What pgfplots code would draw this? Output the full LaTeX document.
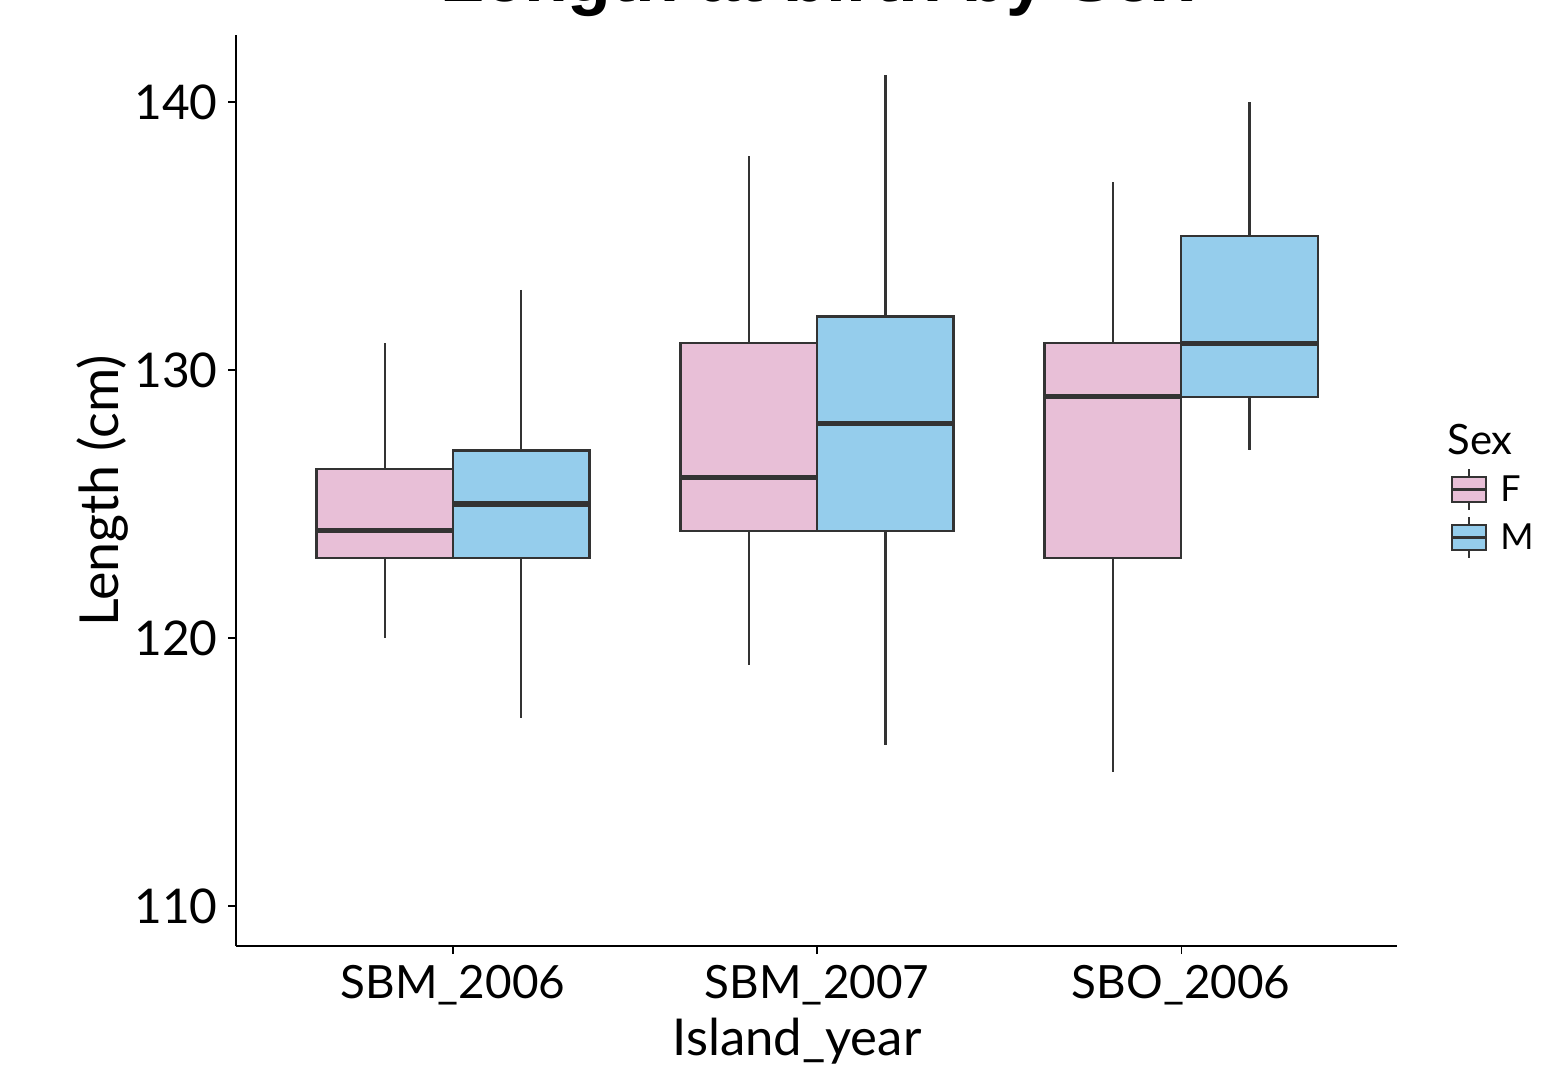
\documentclass[border=0pt]{standalone}
\usepackage{fontspec}
\setmainfont{Lato}
\newfontfamily\titlefont{Liberation Sans}
\usepackage{pgfplots}
\pgfplotsset{compat=1.18}
\usepgfplotslibrary{statistics}
\definecolor{pinkF}{HTML}{E8BFD7}
\definecolor{blueM}{HTML}{95CDEC}
\definecolor{edge}{HTML}{333333}
\begin{document}
\begin{tikzpicture}
\begin{axis}[
  at={(118bp,59.5bp)}, anchor=south west,
  scale only axis, width=580.5bp, height=455.5bp,
  xmin=0.404, xmax=3.593, ymin=108.51, ymax=142.5,
  axis lines*=left,
  axis line style={line width=1.1bp, black, -},
  xtick={1,2,3}, xticklabels={SBM\_2006,SBM\_2007,SBO\_2006},
  ytick={110,120,130,140},
  tick align=outside, major tick length=4bp,
  tick style={line width=0.6bp, black},
  yticklabel style={font=\fontsize{24}{28}\selectfont},
  xticklabel style={font=\fontsize{23}{28}\selectfont},
  /pgf/number format/assume math mode=true,
  yticklabel style={inner sep=0pt, anchor=east, xshift=-5bp},
  xticklabel style={inner sep=0pt, anchor=base, yshift=-22bp},
  boxplot/draw direction=y,
  boxplot/box extend=0.375,
  boxplot/whisker extend=0,
  boxplot/every median/.style={line width=2.6bp},
  boxplot/every box/.style={line width=1.1bp},
  boxplot/every whisker/.style={line width=1.2bp},
  clip=false,
]
% SBM_2006
\addplot[draw=edge, fill=pinkF, boxplot prepared={lower whisker=120, lower quartile=123, median=124, upper quartile=126.3, upper whisker=131, draw position=0.8125}] coordinates {};
\addplot[draw=edge, fill=blueM, boxplot prepared={lower whisker=117, lower quartile=123, median=125, upper quartile=127, upper whisker=133, draw position=1.1875}] coordinates {};
% SBM_2007
\addplot[draw=edge, fill=pinkF, boxplot prepared={lower whisker=119, lower quartile=124, median=126, upper quartile=131, upper whisker=138, draw position=1.8125}] coordinates {};
\addplot[draw=edge, fill=blueM, boxplot prepared={lower whisker=116, lower quartile=124, median=128, upper quartile=132, upper whisker=141, draw position=2.1875}] coordinates {};
% SBO_2006
\addplot[draw=edge, fill=pinkF, boxplot prepared={lower whisker=115, lower quartile=123, median=129, upper quartile=131, upper whisker=137, draw position=2.8125}] coordinates {};
\addplot[draw=edge, fill=blueM, boxplot prepared={lower whisker=127, lower quartile=129, median=131, upper quartile=135, upper whisker=140, draw position=3.1875}] coordinates {};
\end{axis}
% titles and labels
\node[anchor=base, font=\titlefont\bfseries\fontsize{36}{40}\selectfont] at (408.5bp,531.5bp) {Length at birth by Sex};
\node[anchor=base, font=\fontsize{25.5}{30}\selectfont] at (398.5bp,5bp) {Island\_year};
\node[anchor=base, rotate=90, font=\fontsize{27}{30}\selectfont] at (59bp,287bp) {Length (cm)};
% legend
\node[anchor=base west, inner sep=0pt, font=\fontsize{21}{24}\selectfont] at (723.5bp,305bp) {Sex};
\begin{scope}[line width=1.1bp, draw=edge]
\draw[fill=pinkF] (726bp,281.5bp) rectangle (743bp,294bp);
\draw[line width=1.8bp] (726bp,287.75bp) -- (743bp,287.75bp);
\draw (734.5bp,294bp) -- (734.5bp,298bp) (734.5bp,281.5bp) -- (734.5bp,277.5bp);
\draw[fill=blueM] (726bp,257.5bp) rectangle (743bp,270bp);
\draw[line width=1.8bp] (726bp,263.75bp) -- (743bp,263.75bp);
\draw (734.5bp,270bp) -- (734.5bp,274bp) (734.5bp,257.5bp) -- (734.5bp,253.5bp);
\end{scope}
\node[anchor=base west, inner sep=0pt, font=\fontsize{18}{20}\selectfont] at (750bp,281.5bp) {F};
\node[anchor=base west, inner sep=0pt, font=\fontsize{18}{20}\selectfont] at (750bp,257.5bp) {M};
\pgfresetboundingbox
\path (0,0) rectangle (775bp,532.5bp);
\end{tikzpicture}
\end{document}
